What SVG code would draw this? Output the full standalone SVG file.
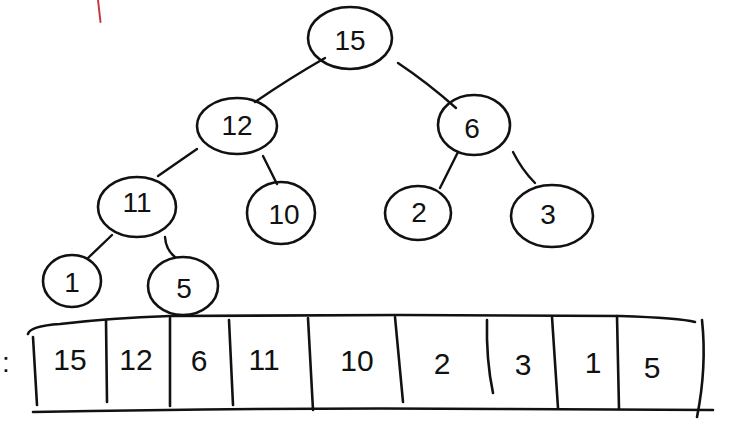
<svg xmlns="http://www.w3.org/2000/svg" width="739" height="424" viewBox="0 0 739 424">
<style>
.n{fill:none;stroke:#111;stroke-width:2.6;stroke-linecap:round}
.e{fill:none;stroke:#111;stroke-width:2.4;stroke-linecap:round}
.a{fill:none;stroke:#111;stroke-width:2.6;stroke-linecap:round;stroke-linejoin:round}
text{font-family:"Liberation Sans","DejaVu Sans",sans-serif;font-size:28px;fill:#111;text-anchor:middle;dominant-baseline:central}
.c{font-size:30px}
</style>
<rect width="739" height="424" fill="#fff"/>
<line x1="98" y1="0" x2="100.5" y2="22" stroke="#c8383a" stroke-width="2" stroke-linecap="round"/>
<g id="connectors">
<path class="e" d="M325,58 Q290,78 255,102"/>
<path class="e" d="M398,63 Q428,83 456,108"/>
<path class="e" d="M197,149 L158,176"/>
<path class="e" d="M263,156 L277,184"/>
<path class="e" d="M458,152 L440,188"/>
<path class="e" d="M513,152 Q522,170 535,183"/>
<path class="e" d="M112,235 L88,258"/>
<path class="e" d="M165,237 Q166,250 175,257"/>
</g>
<g id="node-15"><ellipse class="n" cx="350" cy="38" rx="42" ry="31"/><text x="350" y="40">15</text></g>
<g id="node-12"><ellipse class="n" cx="237" cy="126" rx="40" ry="28"/><text x="237" y="125">12</text></g>
<g id="node-6"><ellipse class="n" cx="474" cy="125" rx="36" ry="30"/><text x="472" y="128">6</text></g>
<g id="node-11"><ellipse class="n" cx="137" cy="207" rx="39" ry="30"/><text x="137" y="202">11</text></g>
<g id="node-10"><ellipse class="n" cx="281" cy="213" rx="34" ry="31"/><text x="284" y="214">10</text></g>
<g id="node-2"><ellipse class="n" cx="418" cy="213" rx="33" ry="27"/><text x="419" y="212">2</text></g>
<g id="node-3"><ellipse class="n" cx="552" cy="216" rx="41" ry="31"/><text x="548" y="214">3</text></g>
<g id="node-1"><ellipse class="n" cx="72" cy="281" rx="29" ry="26"/><text x="72" y="282">1</text></g>
<g id="node-5"><ellipse class="n" cx="183" cy="286" rx="35" ry="29"/><text x="184" y="288">5</text></g>
<g id="array">
<path class="a" d="M28,334 Q30,326 60,324 Q110,318 170,316 L400,315 L620,316 Q680,318 695,322"/>
<path class="a" d="M33,412 Q300,407 500,409 L713,410"/>
<path class="a" d="M33,337 L37,405"/>
<path class="a" d="M106,320 L107,402"/>
<path class="a" d="M170,318 L170,406"/>
<path class="a" d="M229,320 L233,405"/>
<path class="a" d="M308,318 L313,410"/>
<path class="a" d="M395,317 L403,402"/>
<path class="a" d="M487,320 Q486,360 493,393"/>
<path class="a" d="M552,317 L558,408"/>
<path class="a" d="M617,316 L619,409"/>
<path class="a" d="M702,320 Q707,367 697,417"/>
<text class="c" x="70" y="359">15</text>
<text class="c" x="136" y="359">12</text>
<text class="c" x="199" y="360">6</text>
<text class="c" x="264" y="359">11</text>
<text class="c" x="357" y="360">10</text>
<text class="c" x="442" y="363">2</text>
<text class="c" x="523" y="364">3</text>
<text class="c" x="593" y="362">1</text>
<text class="c" x="652" y="367">5</text>
<text x="6" y="362">:</text>
</g>
</svg>
